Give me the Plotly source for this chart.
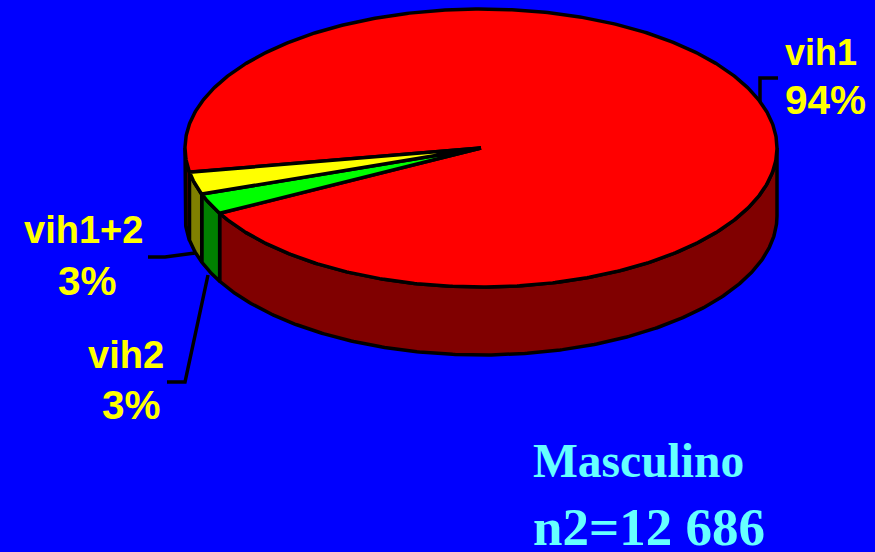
import numpy as np
import plotly.graph_objects as go

# Data (shares; printed labels as in the picture)
categories = ["vih1", "vih2", "vih1+2"]
values = [95.0, 2.4, 2.6]
percent_labels = ["94%", "3%", "3%"]
top_colors = ["#ff0000", "#00ff00", "#ffff00"]
wall_colors = ["#800000", "#008000", "#808000"]

W, H = 875, 552
CX, CY, RX, RY, DEPTH = 481, 148, 296, 139, 68
START = 170.0  # screen angle (clockwise) of first slice start
LW = 3.5


def arc(t0, t1, dy=0.0):
    n = max(2, int(abs(t1 - t0) * 2) + 1)
    t = np.radians(np.linspace(t0, t1, n))
    return CX + RX * np.cos(t), CY + RY * np.sin(t) + dy


def poly(x, y, fill, width=LW):
    return go.Scatter(
        x=np.append(x, x[0]), y=np.append(y, y[0]), mode="lines", fill="toself",
        fillcolor=fill, line=dict(color="black", width=width),
        hoverinfo="skip", showlegend=False,
    )


fig = go.Figure()
total = sum(values)
angles = np.cumsum([0.0] + [v / total * 360 for v in values]) + START
spans = list(zip(angles[:-1], angles[1:]))

# Side walls: only the front half of the disc (0..180 degrees, modulo 360)
for (a, b), col in zip(spans, wall_colors):
    for lo, hi in ((0, 180), (360, 540)):
        s, e = max(a, lo), min(b, hi)
        if e > s:
            xt, yt = arc(s, e)
            xb, yb = arc(e, s, DEPTH)
            fig.add_trace(poly(np.r_[xt, xb], np.r_[yt, yb], col))

# Top face
for (a, b), col in zip(spans, top_colors):
    xt, yt = arc(a, b)
    fig.add_trace(poly(np.r_[CX, xt], np.r_[CY, yt], col))

fig.update_layout(
    width=W, height=H, margin=dict(l=0, r=0, t=0, b=0),
    paper_bgcolor="#0000ff", plot_bgcolor="#0000ff", showlegend=False,
    xaxis=dict(range=[0, W], visible=False, fixedrange=True),
    yaxis=dict(range=[H, 0], visible=False, fixedrange=True),
)

# Leader lines
for xs, ys in (
    ([760, 760, 778], [102, 78, 78]),
    ([148, 165, 195], [257, 257, 253]),
    ([167, 185, 208], [382, 382, 275]),
):
    fig.add_trace(go.Scatter(x=xs, y=ys, mode="lines", line=dict(color="black", width=LW),
                             hoverinfo="skip", showlegend=False))


def label(text, x, y, size, color, family, anchor="center"):
    fig.add_annotation(x=x, y=y, xref="x", yref="y", text=f"<b>{text}</b>", showarrow=False,
                       xanchor=anchor, yanchor="middle",
                       font=dict(size=size, color=color, family=family))


SANS = "Liberation Sans"
SERIF = "Liberation Serif"
label(categories[0], 821, 52, 36, "#ffff00", SANS)
label(percent_labels[0], 825, 100, 40.5, "#ffff00", SANS)
label(categories[2], 83, 230, 38, "#ffff00", SANS)
label(percent_labels[2], 87, 281, 40.5, "#ffff00", SANS)
label(categories[1], 126, 355, 38, "#ffff00", SANS)
label(percent_labels[1], 131, 405, 40.5, "#ffff00", SANS)
label("Masculino", 531, 461, 47.5, "#66ffff", SERIF, "left")
label("n2=12 686", 531, 527, 53, "#66ffff", SERIF, "left")

fig.write_html(
    "out.html",
    config=dict(displayModeBar=False),
    post_script="document.body.style.margin='0';document.body.style.overflow='hidden';document.body.style.background='#0000ff';",
)
